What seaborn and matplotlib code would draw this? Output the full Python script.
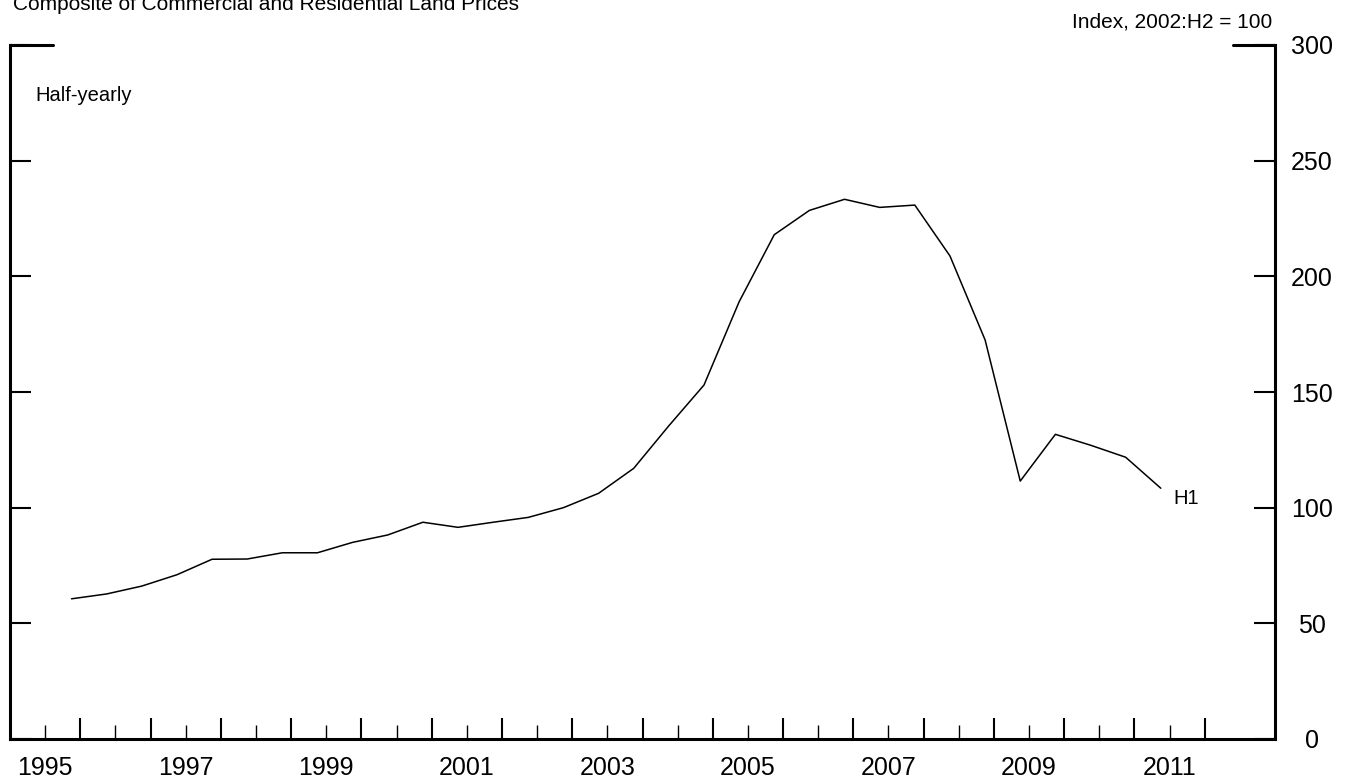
import matplotlib
matplotlib.use("Agg")
import numpy as np
import pandas as pd
import matplotlib.pyplot as plt
import seaborn as sns
from matplotlib.ticker import FixedLocator, FixedFormatter, NullFormatter

# ─────────────────────────────────────────────────────────────
#  Data: composite land price index, half-yearly (2002:H2 = 100)
# ─────────────────────────────────────────────────────────────

periods = [
    "1995:H2",
    "1996:H1", "1996:H2", "1997:H1", "1997:H2", "1998:H1", "1998:H2",
    "1999:H1", "1999:H2", "2000:H1", "2000:H2", "2001:H1", "2001:H2",
    "2002:H1", "2002:H2", "2003:H1", "2003:H2", "2004:H1", "2004:H2",
    "2005:H1", "2005:H2", "2006:H1", "2006:H2", "2007:H1", "2007:H2",
    "2008:H1", "2008:H2", "2009:H1", "2009:H2", "2010:H1", "2010:H2",
    "2011:H1",
]
index_values = [
    60.6,
    62.7, 66.1, 71.0, 77.7, 77.8, 80.5,
    80.5, 85.0, 88.2, 93.7, 91.5, 93.7,
    95.8, 100.0, 106.2, 117.0, 135.4, 153.0,
    189.0, 218.0, 228.5, 233.3, 229.8, 230.8,
    208.8, 172.5, 111.5, 131.7, 127.0, 121.8,
    108.4,
]

year_labels = [str(y) for y in range(1995, 2012, 2)]
y_ticks = [0, 50, 100, 150, 200, 250, 300]

TITLE = "Composite of Commercial and Residential Land Prices"
UNITS = "Index, 2002:H2 = 100"
FREQ = "Half-yearly"


def period_to_x(p: str) -> float:
    # half-years are plotted at the middle of Q2 / Q4
    year, half = p.split(":")
    return int(year) + (0.375 if half == "H1" else 0.875)


df = pd.DataFrame({"period": periods, "index": index_values})
df["x"] = df["period"].map(period_to_x)

# ─────────────────────────────────────────────────────────────
#  Figure
# ─────────────────────────────────────────────────────────────

sns.set_theme(style="white")
plt.rcParams["font.family"] = ["Liberation Sans", "DejaVu Sans"]
plt.rcParams["text.color"] = "black"

W, H = 1356, 782
fig = plt.figure(figsize=(W / 100, H / 100), dpi=100)
ax = fig.add_axes([10 / W, 43 / H, 1265 / W, 694 / H])

sns.lineplot(data=df, x="x", y="index", color="black", linewidth=1.1, ax=ax)

ax.set_xlim(1995, 2013)
ax.set_ylim(0, 300)
ax.set_xlabel("")
ax.set_ylabel("")

for side in ["left", "right", "bottom"]:
    ax.spines[side].set_visible(True)
    ax.spines[side].set_color("black")
    ax.spines[side].set_linewidth(2.2)
ax.spines["top"].set_visible(False)

# short top segments at 300
ax.axhline(300, xmin=0, xmax=43 / 1265, color="black", lw=2.2, clip_on=False)
ax.axhline(300, xmin=1 - 42 / 1265, xmax=1, color="black", lw=2.2, clip_on=False)

# x axis: year boundaries (long ticks), mid-years (short ticks, labelled)
ax.xaxis.set_major_locator(FixedLocator(list(range(1996, 2013))))
ax.xaxis.set_major_formatter(NullFormatter())
minor_pos = [y + 0.5 for y in range(1995, 2012)]
minor_lab = [str(y) if str(y) in year_labels else "" for y in range(1995, 2012)]
ax.xaxis.set_minor_locator(FixedLocator(minor_pos))
ax.xaxis.set_minor_formatter(FixedFormatter(minor_lab))
ax.tick_params(axis="x", which="major", direction="in", length=15, width=1.5,
               color="black", bottom=True, labelbottom=False)
ax.tick_params(axis="x", which="minor", direction="in", length=10, width=1.0,
               color="black", bottom=True, pad=12, labelsize=18, labelcolor="black")

# y axis: ticks both sides, labels on the right only
ax.yaxis.set_major_locator(FixedLocator(y_ticks))
ax.tick_params(axis="y", which="major", direction="in", length=15, width=1.5,
               color="black", left=True, right=True, labelleft=False,
               labelright=True, pad=26.6, labelsize=18, labelcolor="black")
plt.setp(ax.get_yticklabels(), ha="center")

# texts
fig.text(13 / W, 1 - 10 / H, TITLE, fontsize=15, ha="left", va="baseline")
fig.text(1272 / W, 1 - 27 / H, UNITS, fontsize=15, ha="right", va="baseline")
ax.text(25 / 1265, (739 - 101) / 694, FREQ, transform=ax.transAxes,
        fontsize=14.5, ha="left", va="baseline")

last = df.iloc[-1]
ax.annotate("H1", xy=(last["x"], last["index"]), xytext=(9.4, -11.5),
            textcoords="offset points", fontsize=14.5, ha="left", va="baseline")

fig.savefig("out.png", dpi=100)
